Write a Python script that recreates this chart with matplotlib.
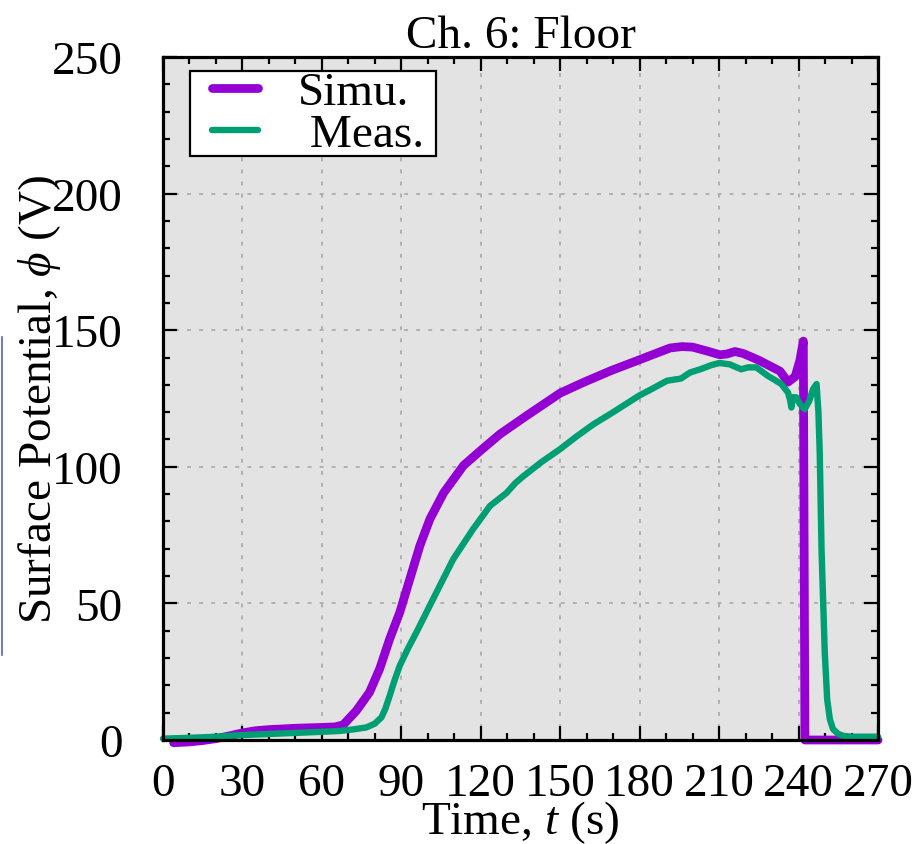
import numpy as np
import matplotlib
matplotlib.use("Agg")
import matplotlib.pyplot as plt
from matplotlib.lines import Line2D
from matplotlib.legend_handler import HandlerLine2D
from matplotlib.ticker import MultipleLocator

plt.rcParams['font.family'] = ['Liberation Serif', 'DejaVu Serif']
plt.rcParams['mathtext.fontset'] = 'custom'
plt.rcParams['mathtext.rm'] = 'Liberation Serif'
plt.rcParams['mathtext.it'] = 'Liberation Serif:italic'

# Simulated surface potential
t_simu = [4, 10, 15, 20, 25, 30, 35, 40, 50, 60, 65, 68, 73, 78, 81.8, 85.6,
          89.4, 93.2, 97, 100.8, 106, 113.5, 120, 127.3, 137.3, 150, 158.8,
          168.9, 179.7, 191.5, 196, 200, 205, 210.3, 213, 216, 219, 221.7, 225,
          228, 233, 236, 238.7, 240.5, 241.8, 242.4, 250, 260, 270]
v_simu = [-1, -0.7, -0.2, 0.5, 1.5, 2.6, 3.4, 3.8, 4.3, 4.6, 4.8, 5.5, 10.7,
          17.5, 26, 37, 46.7, 58.9, 71.1, 80.9, 90.5, 100.5, 106, 112, 118.7,
          127, 130.9, 135.1, 139.1, 143.5, 144, 143.8, 142.5, 141, 141.3,
          142.2, 141.5, 140.4, 139, 137.5, 135, 131, 133, 139, 146, 0, 0, 0, 0]

# Measured surface potential
t_meas = [0, 10, 20, 30, 45, 60, 66.7, 72, 76.8, 80, 82.5, 84, 85.6, 87.5,
          89.4, 92.5, 95.7, 102, 109.6, 117.1, 123.5, 129.8, 133, 136, 143,
          150, 156, 162.6, 170, 179.7, 185, 190.3, 195.6, 199, 203.2, 207,
          210.1, 214, 218.3, 221, 224, 226, 228.4, 231, 233.5, 236, 236.8,
          237.3, 237.9, 239.2, 240.5, 242.3, 244, 245.5, 246.8, 247.5, 248,
          248.7, 249.9, 250.8, 251.8, 253, 255, 257, 260, 270]
v_meas = [0.5, 0.8, 1.2, 1.8, 2.4, 3, 3.3, 3.9, 4.6, 6, 8.3, 11.5, 16.2, 22,
          27.2, 33.5, 39.4, 51.6, 66.2, 77.2, 85.7, 90.5, 94, 96.5, 101.8,
          106.5, 111, 115.6, 120, 126, 128.7, 131.5, 132.3, 134.5, 135.8,
          137.2, 138, 137.5, 135.7, 136.4, 136.4, 135, 133.3, 131.8, 130.3,
          127.2, 124.5, 121.7, 125.5, 125.4, 123, 121.1, 124, 128.5, 130.3,
          120, 105, 68.7, 32, 15, 7.7, 4, 2.2, 1.5, 1.2, 1.2]

x_ticks = np.arange(0, 271, 30)
y_ticks = np.arange(0, 251, 50)

fig = plt.figure(figsize=(9.15, 8.45), dpi=100)
ax = fig.add_axes([163/915, 1-741/845, 715/915, 683/845])
ax.set_facecolor('#e3e3e3')

ax.plot(t_simu, v_simu, color='#9400d3', lw=6.3, label='Simu.',
        solid_capstyle='round', solid_joinstyle='round', clip_on=False, zorder=3)
ax.plot(t_meas, v_meas, color='#009e73', lw=4.6, label=' Meas. ',
        solid_capstyle='round', solid_joinstyle='round', clip_on=False, zorder=4)

ax.set_xlim(0, 270)
ax.set_ylim(0, 250)
ax.set_xticks(x_ticks)
ax.set_yticks(y_ticks)
ax.xaxis.set_minor_locator(MultipleLocator(10))
ax.yaxis.set_minor_locator(MultipleLocator(10))
ax.tick_params(which='both', direction='in', top=True, right=True,
               labelsize=34, width=1.6, colors='black')
ax.tick_params(which='major', length=10)
ax.tick_params(which='minor', length=5)
ax.tick_params(axis='y', pad=29)
ax.tick_params(axis='x', pad=16)
for s in ax.spines.values():
    s.set_linewidth(2.3)
    s.set_zorder(5)

ax.grid(True, which='major', color='#b0b0b0', lw=1.4, dashes=(2, 4.2))
ax.set_axisbelow(True)

ax.set_title('Ch. 6: Floor', fontsize=34, pad=2)
ax.set_xlabel('Time, $t$ (s)', fontsize=34, labelpad=-5)
ax.set_ylabel(r'Surface Potential, $\phi$ (V)', fontsize=34, labelpad=-8)

leg = ax.legend(loc='upper left', bbox_to_anchor=(0.038, 0.979), fontsize=34,
                handlelength=1.44, handletextpad=0.85, labelspacing=-0.03,
                borderpad=0, borderaxespad=0, fancybox=False, framealpha=1,
                edgecolor='black', handler_map={Line2D: HandlerLine2D(xpad=0.47)})
leg.get_frame().set_linewidth(1.6)

# thin blue edge at the far left of the page
fig.add_artist(Line2D([2/915, 2/915], [1-338/845, 1-656/845], color='#5a64b4', lw=1.2))

fig.savefig('out.png', dpi=100)
